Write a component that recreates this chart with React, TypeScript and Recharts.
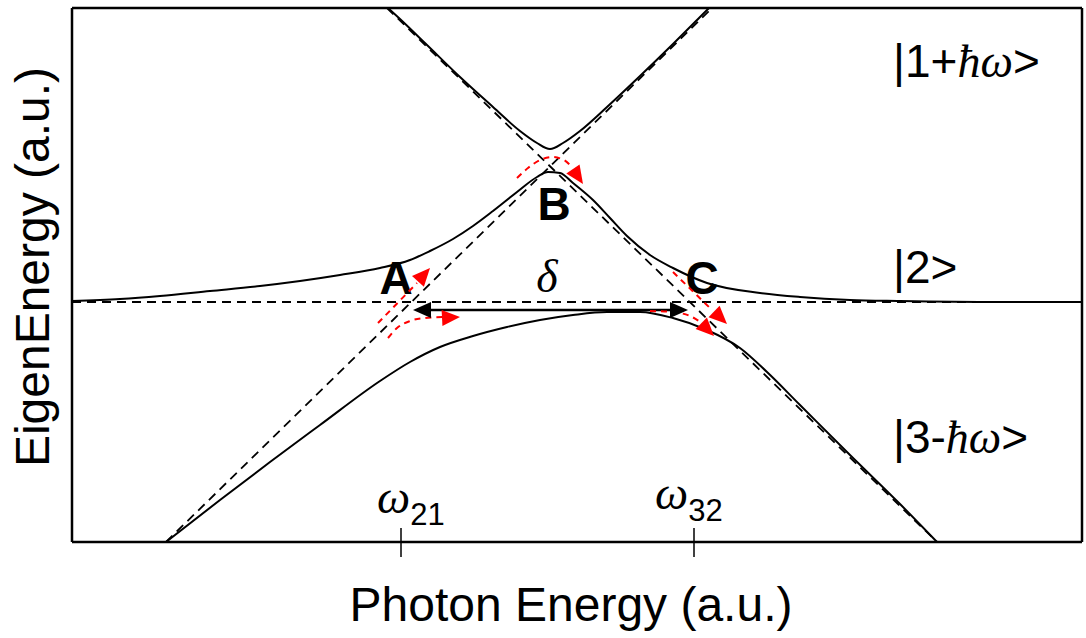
import { ComposedChart, Line, Scatter, XAxis, YAxis } from 'recharts'

// photon energy (x) vs eigenenergy (y), both in arbitrary units
const omegaTicks = [329, 622]
const omegaNames = ['21', '32']

// diabatic (uncoupled) levels
const level2Line = [{ x: 0, y: 240 }, { x: 1010, y: 240 }]
const level1Line = [{ x: 94, y: 0 }, { x: 640, y: 534 }]
const level3Line = [{ x: 315, y: 534 }, { x: 865, y: 0 }]

// adiabatic eigenenergies
const upperBranch = [
  { x: 316, y: 534 }, { x: 328, y: 523 }, { x: 355, y: 497 }, { x: 388, y: 465 },
  { x: 421, y: 435 }, { x: 448, y: 411 }, { x: 465, y: 399 }, { x: 478, y: 393 },
  { x: 491, y: 399 }, { x: 508, y: 411 }, { x: 535, y: 435 }, { x: 568, y: 466 },
  { x: 601, y: 498 }, { x: 628, y: 525 }, { x: 637, y: 534 },
]
const middleBranch = [
  { x: 0, y: 241 }, { x: 48, y: 243 }, { x: 88, y: 246 }, { x: 138, y: 251 },
  { x: 188, y: 256 }, { x: 228, y: 261 }, { x: 268, y: 267 }, { x: 308, y: 274 },
  { x: 338, y: 282 }, { x: 358, y: 291 }, { x: 381, y: 303 }, { x: 401, y: 316 },
  { x: 421, y: 331 }, { x: 445, y: 350 }, { x: 465, y: 365 }, { x: 476, y: 370 },
  { x: 488, y: 369 }, { x: 501, y: 359 }, { x: 521, y: 342 }, { x: 538, y: 324 },
  { x: 555, y: 306 }, { x: 578, y: 287 }, { x: 601, y: 274 }, { x: 635, y: 259 },
  { x: 688, y: 249 }, { x: 728, y: 245 }, { x: 778, y: 242 }, { x: 828, y: 241 },
  { x: 928, y: 240 }, { x: 1010, y: 240 },
]
const lowerBranch = [
  { x: 94, y: 0 }, { x: 148, y: 42 }, { x: 198, y: 80 }, { x: 248, y: 117 },
  { x: 308, y: 161 }, { x: 338, y: 180 }, { x: 368, y: 195 }, { x: 401, y: 206 },
  { x: 435, y: 215 }, { x: 468, y: 222 }, { x: 501, y: 227 }, { x: 535, y: 230 },
  { x: 568, y: 230 }, { x: 601, y: 224 }, { x: 635, y: 212 }, { x: 668, y: 194 },
  { x: 695, y: 170 }, { x: 728, y: 137 }, { x: 778, y: 87 }, { x: 828, y: 38 },
  { x: 865, y: 0 },
]

// detuning arrow
const deltaShaft = [{ x: 350, y: 232 }, { x: 607, y: 232 }]
const deltaHeads = [{ x: 341, y: 232, angle: 180 }, { x: 616, y: 232, angle: 0 }]

// transition paths at the crossings A, B, C
const pathA1 = [{ x: 306, y: 219 }, { x: 345, y: 259 }]
const pathA2 = [
  { x: 316, y: 204 }, { x: 325, y: 214 }, { x: 338, y: 221 }, { x: 353, y: 224 }, { x: 373, y: 225 },
]
const pathB = [
  { x: 445, y: 364 }, { x: 456, y: 374 }, { x: 468, y: 382 }, { x: 480, y: 385 },
  { x: 492, y: 382 }, { x: 498, y: 377 },
]
const pathC1 = [{ x: 601, y: 270 }, { x: 640, y: 232 }]
const pathC2 = [{ x: 578, y: 231 }, { x: 600, y: 230 }, { x: 618, y: 226 }, { x: 630, y: 219 }]
const pathHeads = [
  { x: 358, y: 274, angle: -48 },
  { x: 388, y: 225, angle: -3 },
  { x: 511, y: 358, angle: 56 },
  { x: 655, y: 218, angle: 44 },
  { x: 642, y: 206, angle: 45 },
]

const SANS = 'Liberation Sans, Arial, sans-serif'
const SERIF = 'Liberation Serif, Times New Roman, serif'

function Arrowhead(props: any) {
  const { cx, cy, payload, fill } = props
  if (cx == null || cy == null) return null
  return (
    <polygon
      points="0,0 -18,-8 -18,8"
      fill={fill}
      transform={`translate(${cx},${cy}) rotate(${payload.angle})`}
    />
  )
}

function OmegaTick(props: any) {
  const { x, y, payload } = props
  const i = omegaTicks.indexOf(payload.value)
  const dx = i === 0 ? -24 : -39
  const lift = i === 0 ? 0 : 4
  return (
    <g>
      <line x1={x} y1={y - 14} x2={x} y2={y + 15} stroke="#000" strokeWidth={1.5} />
      <text x={x + dx} y={y - 29 - lift} fontSize={47} fill="#000">
        <tspan fontFamily={SERIF} fontStyle="italic">ω</tspan>
        <tspan fontFamily={SANS} fontSize={31} dy={12}>{omegaNames[i]}</tspan>
      </text>
    </g>
  )
}

const dashed = { stroke: '#000', strokeWidth: 1.8, strokeDasharray: '9 6' }
const solid = { stroke: '#000', strokeWidth: 2 }
const red = { stroke: '#ff0000', strokeWidth: 2, strokeDasharray: '6 5' }
const frame = { stroke: '#000', strokeWidth: 2.5 }

export default function App() {
  return (
    <div style={{ position: 'absolute', left: 0, top: 0, background: '#fff' }}>
      <ComposedChart width={1086} height={638} margin={{ top: 7, right: 3, bottom: 95, left: 71 }}>
        <XAxis
          dataKey="x"
          type="number"
          domain={[0, 1010]}
          allowDataOverflow
          ticks={omegaTicks}
          interval={0}
          tick={<OmegaTick />}
          tickLine={false}
          tickSize={0}
          tickMargin={0}
          height={1}
          axisLine={frame}
        />
        <XAxis
          xAxisId="top"
          orientation="top"
          dataKey="x"
          type="number"
          domain={[0, 1010]}
          ticks={omegaTicks}
          tick={false}
          tickLine={false}
          height={1}
          axisLine={frame}
        />
        <YAxis
          dataKey="y"
          type="number"
          domain={[0, 534]}
          allowDataOverflow
          ticks={[0, 534]}
          tick={false}
          tickLine={false}
          width={1}
          axisLine={frame}
        />
        <YAxis
          yAxisId="right"
          orientation="right"
          dataKey="y"
          type="number"
          domain={[0, 534]}
          ticks={[0, 534]}
          tick={false}
          tickLine={false}
          width={1}
          axisLine={frame}
        />

        <Line data={level2Line} dataKey="y" type="linear" {...dashed} dot={false} activeDot={false} isAnimationActive={false} />
        <Line data={level1Line} dataKey="y" type="linear" {...dashed} dot={false} activeDot={false} isAnimationActive={false} />
        <Line data={level3Line} dataKey="y" type="linear" {...dashed} dot={false} activeDot={false} isAnimationActive={false} />

        <Line data={upperBranch} dataKey="y" type="monotone" {...solid} dot={false} activeDot={false} isAnimationActive={false} />
        <Line data={middleBranch} dataKey="y" type="monotone" {...solid} dot={false} activeDot={false} isAnimationActive={false} />
        <Line data={lowerBranch} dataKey="y" type="monotone" {...solid} dot={false} activeDot={false} isAnimationActive={false} />

        <Line data={deltaShaft} dataKey="y" type="linear" stroke="#000" strokeWidth={2.5} dot={false} activeDot={false} isAnimationActive={false} />
        <Scatter data={deltaHeads} dataKey="y" fill="#000" shape={<Arrowhead />} isAnimationActive={false} />

        <Line data={pathA1} dataKey="y" type="linear" {...red} dot={false} activeDot={false} isAnimationActive={false} />
        <Line data={pathA2} dataKey="y" type="monotone" {...red} dot={false} activeDot={false} isAnimationActive={false} />
        <Line data={pathB} dataKey="y" type="monotone" {...red} dot={false} activeDot={false} isAnimationActive={false} />
        <Line data={pathC1} dataKey="y" type="linear" {...red} dot={false} activeDot={false} isAnimationActive={false} />
        <Line data={pathC2} dataKey="y" type="monotone" {...red} dot={false} activeDot={false} isAnimationActive={false} />
        <Scatter data={pathHeads} dataKey="y" fill="#ff0000" shape={<Arrowhead />} isAnimationActive={false} />

        <text x={396} y={294} textAnchor="middle" fontFamily={SANS} fontWeight="bold" fontSize={46} fill="#000">A</text>
        <text x={554} y={220} textAnchor="middle" fontFamily={SANS} fontWeight="bold" fontSize={46} fill="#000">B</text>
        <text x={702} y={294} textAnchor="middle" fontFamily={SANS} fontWeight="bold" fontSize={46} fill="#000">C</text>
        <text x={547} y={292} textAnchor="middle" fontFamily={SERIF} fontStyle="italic" fontSize={46} fill="#000">δ</text>

        <text x={893} y={77} fontFamily={SANS} fontSize={46} fill="#000">
          |1+<tspan fontFamily={SERIF} fontStyle="italic">ħω</tspan>&gt;
        </text>
        <text x={893} y={283} fontFamily={SANS} fontSize={46} fill="#000">|2&gt;</text>
        <text x={893} y={453} fontFamily={SANS} fontSize={46} fill="#000">
          |3-<tspan fontFamily={SERIF} fontStyle="italic">ħω</tspan>&gt;
        </text>

        <text x={571} y={621} textAnchor="middle" fontFamily={SANS} fontSize={48} fill="#000">Photon Energy (a.u.)</text>
        <text transform="translate(49,267) rotate(-90)" textAnchor="middle" fontFamily={SANS} fontSize={48} fill="#000">EigenEnergy (a.u.)</text>
      </ComposedChart>
    </div>
  )
}
